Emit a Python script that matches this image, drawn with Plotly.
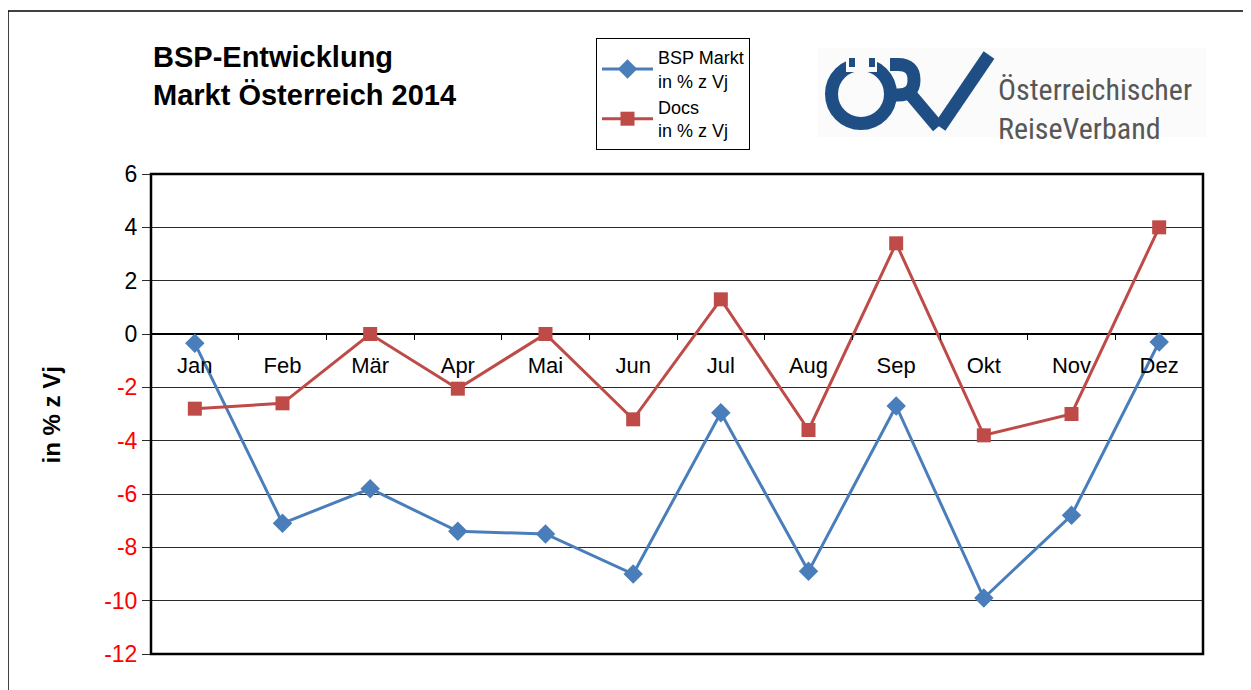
import plotly.graph_objects as go

months = ["Jan", "Feb", "Mär", "Apr", "Mai", "Jun", "Jul", "Aug", "Sep", "Okt", "Nov", "Dez"]
bsp_markt = [-0.35, -7.1, -5.8, -7.4, -7.5, -9.0, -2.95, -8.9, -2.7, -9.9, -6.8, -0.3]
docs = [-2.8, -2.6, 0.0, -2.05, 0.0, -3.2, 1.3, -3.6, 3.4, -3.8, -3.0, 4.0]
y_ticks = [6, 4, 2, 0, -2, -4, -6, -8, -10, -12]

# page body has an 8px default margin
OFF = 8
W, H = 1251 - OFF, 690 - OFF
L, R, T, B = 151, 1203, 174, 654


def px(x):
    return (x - L) / (R - L)


def py(y):
    return 1 - (y - T) / (B - T)


FONT = "Liberation Sans, Arial, sans-serif"
BLUE = "#4A7EBB"
RED = "#BE4B48"
LOGO = "#1F4E85"
LOGO_BG = "#FBFBFB"

fig = go.Figure()
fig.add_trace(go.Scatter(
    x=months, y=bsp_markt, mode="lines+markers", name="BSP Markt<br>in % z Vj",
    line=dict(color=BLUE, width=3), marker=dict(symbol="diamond", size=15, color=BLUE)))
fig.add_trace(go.Scatter(
    x=months, y=docs, mode="lines+markers", name="Docs<br>in % z Vj",
    line=dict(color=RED, width=3), marker=dict(symbol="square", size=14, color=RED)))

ticktext = [f"<span style='color:{'#000000' if v >= 0 else '#FF0000'}'>{v}</span>" for v in y_ticks]

ymin, ymax = -12, 6
fig.update_layout(
    width=W, height=H,
    margin=dict(l=L - OFF, r=1251 - R, t=T - OFF, b=690 - B),
    paper_bgcolor="white", plot_bgcolor="white",
    font=dict(family=FONT, color="black"),
    showlegend=True,
    legend=dict(x=px(596), y=py(38), xanchor="left", yanchor="top",
                bgcolor="white", bordercolor="black", borderwidth=1,
                font=dict(size=18, family=FONT), tracegroupgap=5, itemwidth=51),
    xaxis=dict(type="category", range=[-0.5, 11.5], anchor="free",
               position=(0 - ymin) / (ymax - ymin),
               showgrid=False, showline=False, zeroline=False,
               ticks="outside", tickson="boundaries", ticklen=5, tickcolor="black",
               tickfont=dict(size=22, family=FONT), ticklabelstandoff=16),
    yaxis=dict(range=[ymin, ymax], tickvals=y_ticks, ticktext=ticktext,
               showgrid=True, gridcolor="#2a2a2a", gridwidth=1,
               zeroline=True, zerolinecolor="#000000", zerolinewidth=1.5,
               ticks="outside", ticklen=8, tickcolor="#2a2a2a",
               tickfont=dict(size=23, family=FONT), showline=False),
)

shapes = []
# outer frame
shapes.append(dict(type="line", xref="paper", yref="paper", x0=px(8), x1=px(1260), y0=py(11), y1=py(11),
                   line=dict(color="black", width=1.5)))
shapes.append(dict(type="line", xref="paper", yref="paper", x0=px(8), x1=px(8), y0=py(11), y1=py(700),
                   line=dict(color="black", width=1.5)))
# plot frame
shapes.append(dict(type="rect", xref="paper", yref="paper", x0=0, x1=1, y0=0, y1=1,
                   line=dict(color="black", width=2.5), layer="above"))

# logo background
shapes.append(dict(type="rect", xref="paper", yref="paper", x0=px(818), x1=px(1206), y0=py(137), y1=py(48),
                   fillcolor=LOGO_BG, line=dict(width=0), layer="below"))
# Ö ring
shapes.append(dict(type="circle", xref="paper", yref="paper", x0=px(831.5), x1=px(890.5), y0=py(123.5), y1=py(64.5),
                   line=dict(color=LOGO, width=13)))
# gap at top of ring
shapes.append(dict(type="rect", xref="paper", yref="paper", x0=px(846), x1=px(877), y0=py(72), y1=py(52),
                   fillcolor=LOGO_BG, line=dict(width=0)))
# umlaut dots
for x0 in (849, 869):
    shapes.append(dict(type="rect", xref="paper", yref="paper", x0=px(x0), x1=px(x0 + 6), y0=py(67), y1=py(58),
                       fillcolor=LOGO, line=dict(width=0)))
# R bowl
r_path = "M {} {} L {} {} Q {} {} {} {} Q {} {} {} {} L {} {}".format(
    px(890), py(64.5), px(898), py(64.5), px(914), py(64.5), px(914), py(80),
    px(914), py(95), px(898), py(95), px(893), py(95))
shapes.append(dict(type="path", xref="paper", yref="paper", path=r_path,
                   line=dict(color=LOGO, width=13)))
# R leg
shapes.append(dict(type="line", xref="paper", yref="paper", x0=px(911), x1=px(938), y0=py(95), y1=py(127),
                   line=dict(color=LOGO, width=13)))
# V stroke
shapes.append(dict(type="line", xref="paper", yref="paper", x0=px(940), x1=px(989), y0=py(127), y1=py(55),
                   line=dict(color=LOGO, width=13)))
fig.update_layout(shapes=shapes)

annotations = [
    dict(text="<b>BSP-Entwicklung<br>Markt Österreich 2014</b>", x=px(151), y=py(39),
         xref="paper", yref="paper", xanchor="left", yanchor="top", showarrow=False, align="left",
         font=dict(size=29, family=FONT, color="black")),
    dict(text="<b>in % z Vj</b>", x=px(35), y=py(415), xref="paper", yref="paper",
         textangle=-90, showarrow=False, font=dict(size=24, family=FONT, color="black")),
    dict(text="Österreichischer<br>ReiseVerband", x=px(996), y=py(109), xref="paper", yref="paper",
         xanchor="left", yanchor="middle", showarrow=False, align="left",
         font=dict(size=30, family="Liberation Sans Narrow, Roboto Condensed, Roboto, sans-serif", color="#575757")),
]
fig.update_layout(annotations=annotations)

fig.write_html("out.html")
